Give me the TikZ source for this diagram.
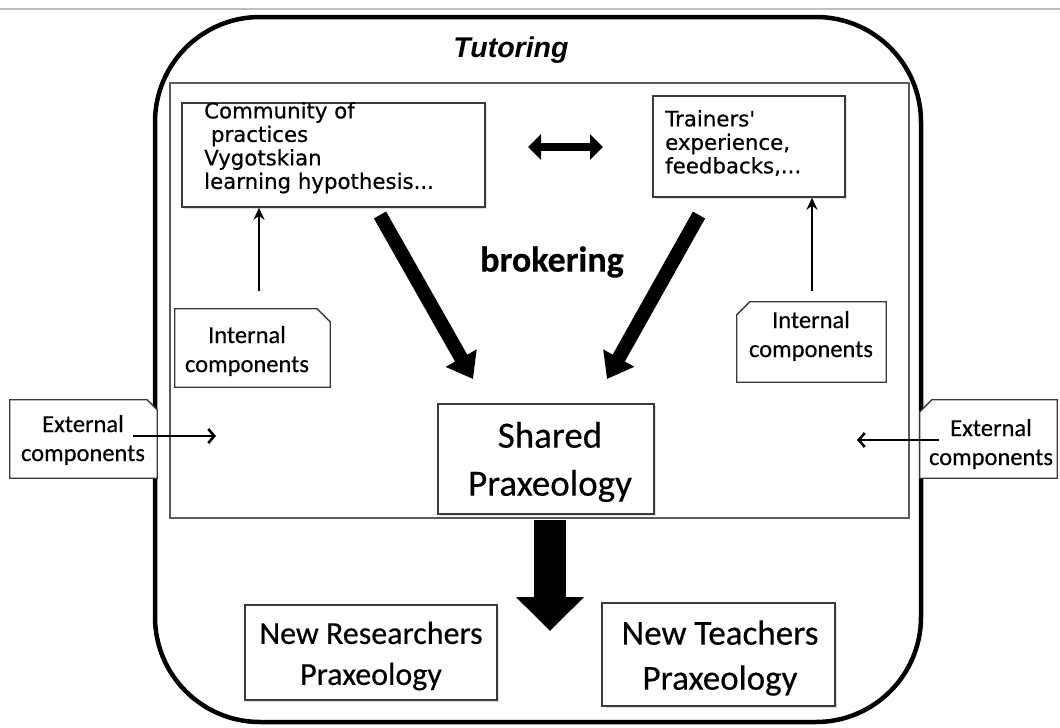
\documentclass[tikz,border=0pt]{standalone}
\usepackage{fontspec}
\setmainfont{Carlito}[FakeBold=0.4]
\newfontfamily\dejavu{DejaVu Sans}[FakeBold=0.5]
\newfontfamily\libsans{Liberation Sans}
\usetikzlibrary{arrows.meta,shadows}
\definecolor{boxline}{HTML}{3A3A3A}
\definecolor{innerline}{HTML}{5A5A5A}
\tikzset{
  plainbox/.style={draw=boxline,line width=1.4pt,fill=white,inner sep=0pt,
    drop shadow={shadow xshift=2pt,shadow yshift=-2pt,opacity=.25}},
  foldbox/.style={inner sep=0pt,align=center,font=\fontsize{24.5}{29}\selectfont},
  foldline/.style={draw=boxline,line width=1.3pt,fill=white},
  thinarrow/.style={line width=2.4pt,-{Stealth[length=12pt,width=11pt]}},
  extarrow/.style={line width=2.6pt,-{Straight Barb[length=6pt,width=14pt,line width=2.6pt]}},
  fatarrow/.style={line width=14pt,-{Triangle[length=24pt,width=34pt]}},
  toptext/.style={inner sep=0pt,align=left,anchor=north west,
    font=\dejavu\fontsize{21.3}{23.5}\selectfont},
  bigtext/.style={align=center,inner sep=0pt}
}
\begin{document}
\begin{tikzpicture}[x=1pt,y=-1pt]
\useasboundingbox (0,0) rectangle (1060,728);
\fill[white] (0,0) rectangle (1060,728);
\draw[black!25,line width=1.2pt] (0,9) coordinate (gl) -- (1060,9) coordinate (gr);

% outer tutoring frame
\node[draw=black,line width=4.5pt,rounded corners=105pt,minimum width=766pt,minimum height=705pt,inner sep=0pt] (tut) at (538,369.5) {};
\node[font=\libsans\bfseries\itshape\fontsize{28.5}{33}\selectfont,inner sep=0pt] (tutlab) at (511,50) {Tutoring};

% inner frame
\node[draw=innerline,line width=1.4pt,minimum width=739pt,minimum height=435pt,inner sep=0pt] (inner) at (539.5,300.5) {};

% top boxes
\node[plainbox,minimum width=303pt,minimum height=104pt] (comm) at (333.5,155) {};
\node[toptext] (commtxt) at (204,102) {Community of\\\ practices\\Vygotskian\\learning hypothesis...};
\node[plainbox,minimum width=192pt,minimum height=101pt] (train) at (749,146.5) {};
\node[toptext] (traintxt) at (665,110) {Trainers'\\experience,\\feedbacks,...};

% double arrow between
\coordinate (dl) at (528,147);
\coordinate (dr) at (603,147);
\draw[line width=8pt,{Triangle[length=13pt,width=25pt]}-{Triangle[length=13pt,width=25pt]}] (dl) -- (dr);

% brokering
\node[font=\bfseries\fontsize{36}{42}\selectfont,inner sep=0pt] (brok) at (552,262) {brokering};

% fat diagonal arrows
\coordinate (a1s) at (380,215);
\coordinate (a1e) at (473,379);
\coordinate (a2s) at (699,215);
\coordinate (a2e) at (607,379);
\draw[fatarrow] (a1s) -- (a1e);
\draw[fatarrow] (a2s) -- (a2e);

% internal components (left)
\node[foldbox,minimum width=155pt,minimum height=78pt] (intL) at (252.5,348) {};
\draw[foldline] (intL.south west) -- (intL.north west) -- ([xshift=-13pt]intL.north east) -- ([yshift=-13pt]intL.north east) -- (intL.south east) -- cycle;
\node[foldbox] (intLtxt) at (247,351) {Internal\\components};
\coordinate (iLs) at (259,291);
\draw[thinarrow] (iLs) -- (iLs |- comm.south);

% internal components (right)
\node[foldbox,minimum width=149pt,minimum height=80pt] (intR) at (811.5,342) {};
\draw[foldline] (intR.south west) -- ([yshift=-13pt]intR.north west) -- ([xshift=13pt]intR.north west) -- (intR.north east) -- (intR.south east) -- cycle;
\node[foldbox] (intRtxt) at (811,336) {Internal\\components};
\coordinate (iRs) at (812,291);
\draw[thinarrow] (iRs) -- (iRs |- train.south);

% external components (left)
\node[foldbox,minimum width=147pt,minimum height=78pt] (extL) at (83.5,439) {};
\draw[foldline] (extL.south west) -- (extL.north west) -- ([xshift=-10pt]extL.north east) -- ([yshift=-10pt]extL.north east) -- (extL.south east) -- cycle;
\node[foldbox] (extLtxt) at (83,440) {External\\components};
\coordinate (eLs) at (133,436);
\coordinate (eLe) at (216,436);

% external components (right)
\node[foldbox,minimum width=137pt,minimum height=78pt] (extR) at (988.5,439) {};
\draw[foldline] (extR.south west) -- ([yshift=-12pt]extR.north west) -- ([xshift=12pt]extR.north west) -- (extR.north east) -- (extR.south east) -- cycle;
\node[foldbox] (extRtxt) at (991,444) {External\\components};
\coordinate (eRs) at (939,440);
\coordinate (eRe) at (857,440);

% redraw frame borders over external boxes
\draw[line width=4.5pt] (tut.west |- 380,0) -- (tut.west |- 500,0);
\draw[line width=4.5pt] (tut.east |- 380,0) -- (tut.east |- 500,0);
\draw[extarrow] (eLs) -- (eLe);
\draw[extarrow] (eRs) -- (eRe);

% shared praxeology
\node[plainbox,minimum width=216pt,minimum height=110pt] (shared) at (546,459) {};
\node[bigtext,font=\fontsize{37}{48}\selectfont] (sharedtxt) at (550,462) {Shared\\Praxeology};

% big down arrow
\coordinate (bs) at (550,520);
\coordinate (be) at (550,631);
\draw[line width=32pt,-{Triangle[length=34pt,width=66pt]}] (bs) -- (be);

% new praxeologies
\node[plainbox,minimum width=252pt,minimum height=95pt] (nr) at (371,652.5) {};
\node[bigtext,font=\fontsize{32}{41}\selectfont] (nrtxt) at (371,656) {New Researchers\\Praxeology};
\node[plainbox,minimum width=233pt,minimum height=103pt] (nt) at (718.5,654.5) {};
\node[bigtext,font=\fontsize{35}{45}\selectfont] (nttxt) at (720,658) {New Teachers\\Praxeology};
\end{tikzpicture}
\end{document}
